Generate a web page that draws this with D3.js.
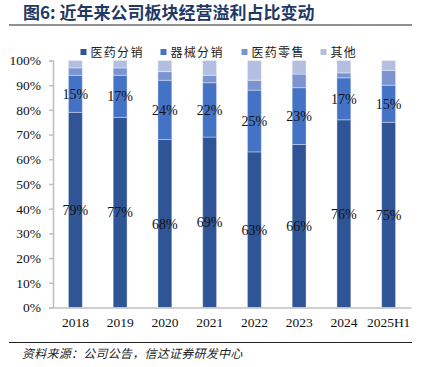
<!DOCTYPE html>
<html><head><meta charset="utf-8">
<script src="https://cdn.jsdelivr.net/npm/d3@7"></script>
<style>body{margin:0;background:#fff;}svg{display:block;}</style>
</head><body>
<svg id="c" width="426" height="367"></svg>
<script>
const categories = ["2018","2019","2020","2021","2022","2023","2024","2025H1"];
const seriesNames = ["医药分销","器械分销","医药零售","其他"];
const pharmaDist = [79,77,68,69,63,66,76,75];
const deviceDist = [15,17,24,22,25,23,17,15];
const pharmaRetail = [3,3,3.5,3,4,5.5,2,6];
const others = [3,3,4.5,6,8,5.5,5,4];
const yTicks = [0,10,20,30,40,50,60,70,80,90,100];
const colors = ["#2F5597","#4472C4","#7B93D0","#B4BEE0"];

const svg = d3.select("#c");
const margin = {left:53, right:15, top:61, bottom:59};
const W = 426, H = 367;
const x = d3.scaleBand().domain(categories).range([margin.left, W-margin.right]).paddingInner(0.69).paddingOuter(0.345);
const y = d3.scaleLinear().domain([0,100]).range([307.5, 60.5]);

// Title
svg.append("text").attr("x",23).attr("y",19).attr("font-family","'Noto Sans CJK SC'").attr("font-weight","bold")
  .attr("font-size",17).attr("fill","#1F3864").text("图6: 近年来公司板块经营溢利占比变动");
svg.append("line").attr("x1",9).attr("x2",412).attr("y1",25).attr("y2",25).attr("stroke","#222").attr("stroke-width",1);

// data
const rows = categories.map((c,i)=>({cat:c, v:[pharmaDist[i],deviceDist[i],pharmaRetail[i],others[i]]}));
const stackData = rows.map(r=>{const o={cat:r.cat}; seriesNames.forEach((s,j)=>o[s]=r.v[j]); return o;});
const stack = d3.stack().keys(seriesNames)(stackData);

const g = svg.append("g");
stack.forEach((layer,li)=>{
  g.selectAll(null).data(layer).enter().append("rect")
    .attr("x",d=>x(d.data.cat)).attr("width",x.bandwidth())
    .attr("y",d=>y(Math.min(d[1],100))).attr("height",d=>y(d[0])-y(Math.min(d[1],100)))
    .attr("fill",colors[li]).attr("stroke","#fff").attr("stroke-opacity",0.35).attr("stroke-width",1);
});

// labels for first two series
[0,1].forEach(li=>{
  g.selectAll(null).data(stack[li]).enter().append("text")
    .attr("x",d=>x(d.data.cat)+x.bandwidth()/2)
    .attr("y",d=>(y(d[0])+y(d[1]))/2+5)
    .attr("text-anchor","middle").attr("font-family","'Liberation Serif'").attr("font-size",14).attr("fill","#111")
    .text(d=>Math.round(d[1]-d[0])+"%");
});

// axes
const yAxis = d3.axisLeft(y).tickValues(yTicks).tickFormat(d=>d+"%").tickSize(4).tickPadding(8);
const ya = svg.append("g").attr("transform",`translate(${margin.left},0)`).call(yAxis);
ya.select(".domain").attr("stroke","#BFBFBF").attr("stroke-width",1.5);
ya.selectAll(".tick line").attr("stroke","#BFBFBF").attr("stroke-width",1.5);
ya.selectAll("text").attr("font-family","'Liberation Serif'").attr("font-size",13.5).attr("fill","#111");

const xAxis = d3.axisBottom(x).tickSize(0).tickPadding(10);
const xa = svg.append("g").attr("transform",`translate(0,${y(0)})`).call(xAxis);
xa.select(".domain").attr("stroke","#BFBFBF").attr("stroke-width",1.5);
xa.selectAll("text").attr("font-family","'Liberation Serif'").attr("font-size",13.5).attr("fill","#111");

// legend
const legX = [80.5,160.5,241.5,320.5];
seriesNames.forEach((s,i)=>{
  svg.append("rect").attr("x",legX[i]).attr("y",49).attr("width",6).attr("height",6).attr("fill",colors[i]);
  svg.append("text").attr("x",legX[i]+10).attr("y",57).attr("font-family","'Noto Sans CJK SC'").attr("font-size",12)
    .attr("letter-spacing",1.3).attr("fill","#222").text(s);
});

// footer
svg.append("line").attr("x1",9).attr("x2",412).attr("y1",342.5).attr("y2",342.5).attr("stroke","#222").attr("stroke-width",1);
svg.append("text").attr("x",22).attr("y",358).attr("font-family","'Noto Sans CJK SC'").attr("font-size",12)
  .attr("letter-spacing",0.25).attr("font-style","italic").attr("fill","#222").text("资料来源：公司公告，信达证券研发中心");
</script>
</body></html>
